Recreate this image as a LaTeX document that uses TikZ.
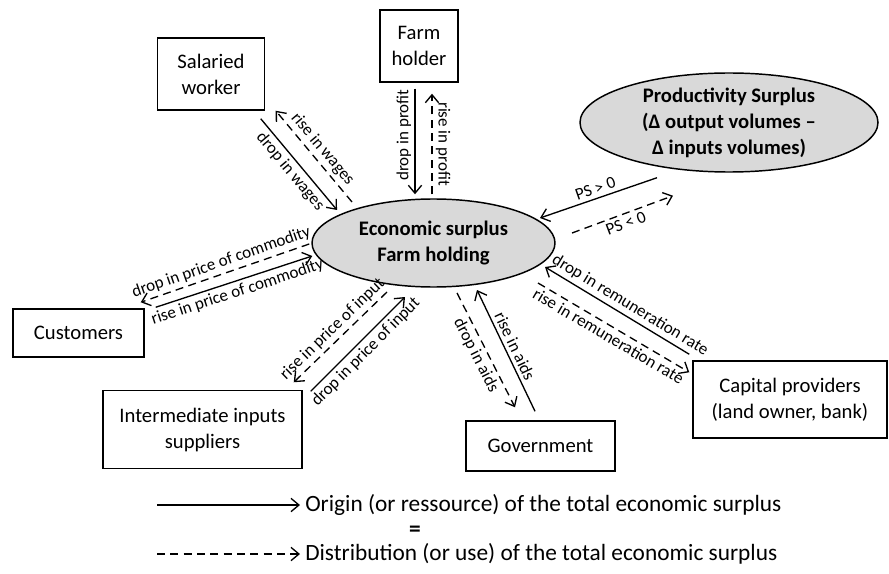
\documentclass[tikz,border=0pt]{standalone}
\usepackage{fontspec}
\setmainfont{Carlito}
\usepackage{tikz}
\usetikzlibrary{arrows.meta,shapes.geometric}
\newcommand\boxfont{\fontsize{15.5}{19.5}\selectfont}
\newcommand\labfont{\fontsize{12.75}{15}\selectfont}
\newcommand\legfont{\fontsize{17.5}{20}\selectfont}

\begin{document}
\begin{tikzpicture}[x=0.75pt,y=-0.75pt,
  box/.style={draw,line width=1.1pt,align=center,inner sep=0pt,font=\boxfont},
  surplus/.style={ellipse,draw,line width=1.1pt,fill=black!15,align=center,inner sep=0pt,font=\boxfont\bfseries},
  orig/.style={line width=1pt,-{Straight Barb[length=6pt,width=10pt]}},
  distr/.style={orig,dash pattern=on 6pt off 4pt},
  lab/.style={font=\labfont,inner sep=2.5pt}]
\useasboundingbox (0,0) rectangle (889,574);
\node[box,minimum width=58.5pt,minimum height=54pt] (fh) at (419,46) {Farm\\holder};
\node[box,minimum width=80.25pt,minimum height=54pt] (sw) at (211,74) {Salaried\\worker};
\node[surplus,minimum width=223.5pt,minimum height=74.25pt] (ps) at (729,122.5) {Productivity Surplus\\(Δ output volumes --\\Δ inputs volumes)};
\node[surplus,minimum width=182.25pt,minimum height=66pt] (es) at (433.5,243) {Economic surplus\\Farm holding};
\node[box,minimum width=98.25pt,minimum height=36pt] (cu) at (78.5,333) {Customers};
\node[box,minimum width=149.25pt,minimum height=58.5pt] (ii) at (202.5,429.5) {Intermediate inputs\\suppliers};
\node[box,minimum width=111.75pt,minimum height=37.5pt] (gv) at (540.5,446) {Government};
\node[box,minimum width=145.5pt,minimum height=57.75pt] (cp) at (790,399.5) {Capital providers\\(land owner, bank)};
\draw[orig] ([shift={(-4,6)}]fh.south) -- node[lab,pos=0.44,rotate=90,anchor=south] {drop in profit} ([shift={(-18.5,-4)}]es.north);
\draw[distr] ([shift={(-1.5,-4)}]es.north) -- node[lab,rotate=-90,anchor=south] {rise in profit} ([shift={(13,11)}]fh.south);
\draw[orig] ([shift={(-4.5,8)}]sw.south east) -- node[lab,rotate=-50,anchor=north] {drop in wages} ([shift={(-96.5,-33)}]es.center);
\draw[distr] ([shift={(-81.5,-41)}]es.center) -- node[lab,rotate=-50,anchor=south] {rise in wages} ([shift={(10.5,0)}]sw.south east);
\draw[orig] ([shift={(-72,5)}]ps.south) -- node[lab,rotate=19.3,anchor=south] {PS > 0} ([shift={(106.5,-25)}]es.center);
\draw[distr] ([shift={(138.5,-10)}]es.center) -- node[lab,rotate=20.6,anchor=north] {PS < 0} ([shift={(-56,23)}]ps.south);
\draw[distr] ([shift={(-2,1)}]es.west) -- node[lab,rotate=19.2,anchor=south] {drop in price of commodity} ([shift={(-4,-6)}]cu.north east);
\draw[orig] ([shift={(11,-1)}]cu.north east) -- node[lab,rotate=18.2,anchor=north] {rise in price of commodity} ([shift={(1,13)}]es.west);
\draw[distr] ([shift={(-46.5,49)}]es.center) -- node[lab,rotate=44,anchor=south] {rise in price of input} ([shift={(-9,-7.5)}]ii.north east);
\draw[orig] ([shift={(8,1.5)}]ii.north east) -- node[lab,rotate=45,anchor=north] {drop in price of input} ([shift={(-28.5,54)}]es.center);
\draw[distr] ([shift={(23.5,50)}]es.center) -- node[lab,rotate=-63,anchor=north] {drop in aids} ([shift={(-25.5,-13)}]gv.north);
\draw[orig] ([shift={(-5.5,-9)}]gv.north) -- node[lab,rotate=-64.6,anchor=south] {rise in aids} ([shift={(43.5,47)}]es.center);
\draw[orig] ([shift={(-3,-6)}]cp.north west) -- node[lab,pos=0.45,rotate=-31.3,anchor=south] {drop in remuneration rate} ([shift={(111.5,24)}]es.center);
\draw[distr] ([shift={(104.5,40)}]es.center) -- node[lab,rotate=-30.6,anchor=north] {rise in remuneration rate} ([shift={(-3,12)}]cp.north west);
\coordinate (o0) at (157,505);
\node[anchor=west,font=\legfont,inner sep=0pt] (ot) at (305,505) {Origin (or ressource) of the total economic surplus};
\draw[orig] (o0) -- ([shift={(-5,0)}]ot.west);
\node[font=\legfont\bfseries,inner sep=0pt] (eq) at (415,531) {=};
\coordinate (d0) at (157,554);
\node[anchor=west,font=\legfont,inner sep=0pt] (dt) at (305,554) {Distribution (or use) of the total economic surplus};
\draw[distr] (d0) -- ([shift={(-5,0)}]dt.west);
\end{tikzpicture}
\end{document}
